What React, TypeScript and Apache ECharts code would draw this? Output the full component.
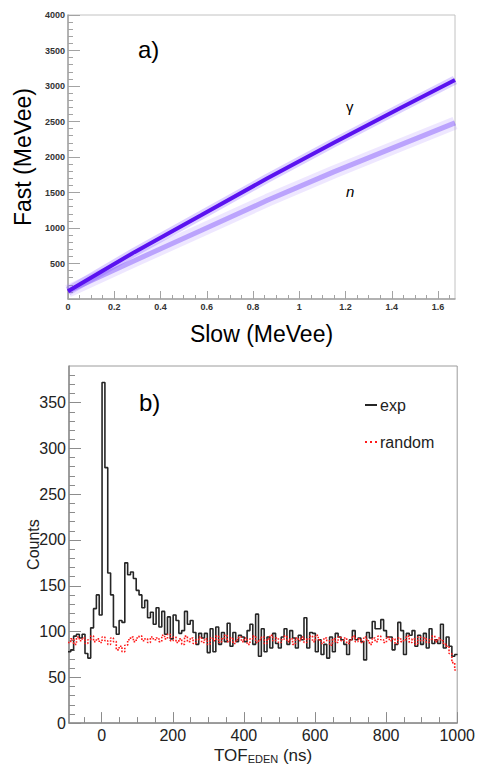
import React, { useEffect, useRef } from 'react';
import * as echarts from 'echarts';

const FONT = '"Liberation Sans", Arial, Helvetica, sans-serif';

// ---- panel a) : band centre lines ----
const gammaSlow = [0, 0.287, 0.575, 0.862, 1.149, 1.437, 1.673];
const gammaFast = [110, 660, 1180, 1700, 2200, 2690, 3085];
const neutronSlow = [0, 0.287, 0.575, 0.862, 1.149, 1.437, 1.673];
const neutronFast = [110, 540, 965, 1390, 1790, 2170, 2480];

const topXMajor = [0, 0.2, 0.4, 0.6, 0.8, 1, 1.2, 1.4, 1.6];
const topXMinor = [0.05, 0.1, 0.15, 0.25, 0.3, 0.35, 0.45, 0.5, 0.55, 0.65, 0.7, 0.75, 0.85, 0.9, 0.95, 1.05, 1.1, 1.15, 1.25, 1.3, 1.35, 1.45, 1.5, 1.55, 1.65];
const topYMajor = [0, 500, 1000, 1500, 2000, 2500, 3000, 3500, 4000];
const topYLabels = [500, 1000, 1500, 2000, 2500, 3000, 3500, 4000];
const topYMinor = [100, 200, 300, 400, 600, 700, 800, 900, 1100, 1200, 1300, 1400, 1600, 1700, 1800, 1900, 2100, 2200, 2300, 2400, 2600, 2700, 2800, 2900, 3100, 3200, 3300, 3400, 3600, 3700, 3800, 3900];

// ---- panel b) : TOF histogram ----
const binStart = -95;
const binWidth = 8;
const expCounts = [
  78, 80, 95, 97, 93, 97, 76, 71, 104, 125,
  140, 118, 372, 279, 164, 140, 105, 97, 112, 110,
  175, 162, 165, 158, 145, 140, 126, 134, 115, 121,
  108, 126, 105, 122, 97, 116, 92, 118,
  112, 98, 101, 122, 108, 112, 99, 86, 98, 93,
  98, 77, 103, 78, 105, 86, 99, 89, 109, 84,
  99, 89, 96, 94, 89, 101, 108, 86, 119, 73,
  103, 78, 94, 82, 98, 87, 82, 94, 103, 86,
  101, 93, 82, 96, 91, 115, 82, 99,
  98, 78, 91, 75, 86, 71, 94, 78, 98, 94,
  91, 86, 75, 91, 101, 91, 93, 89, 69, 99,
  93, 111, 103, 103, 113, 101, 94, 94, 80, 86,
  110, 101, 75, 98, 96, 101, 84, 96, 86, 98,
  82, 103, 87, 91, 87, 108, 82, 94, 84, 73,
  75,
];
const randomCounts = [
  88, 92, 86, 94, 90, 93, 87, 91, 95, 89, 92,
  88, 94, 90, 86, 93, 89, 80, 84, 78, 85,
  91, 94, 89, 93, 95, 90, 92, 88, 94, 91,
  93, 89, 96, 92, 97, 90, 94, 88, 92, 86,
  95, 89, 93, 87, 91, 94, 88, 92, 86, 93,
  90, 95, 88, 92, 96, 89, 93, 87, 91, 94,
  89, 93, 86, 92, 95, 88, 91, 94, 87, 92,
  96, 90, 93, 88, 91, 95, 89, 92, 86, 93,
  90, 94, 88, 92, 95, 89, 96, 91, 87, 93,
  90, 85, 92, 88, 94, 90, 93, 87, 91, 95,
  89, 92, 88, 94, 90, 86, 93, 89, 95, 91,
  88, 94, 90, 92, 87, 93, 89, 91, 95, 88,
  92, 86, 94, 90, 93, 88, 91, 95, 89, 93,
  90, 86, 84, 76, 66, 58,
];

const botXMajor = [0, 200, 400, 600, 800, 1000];
const botXMinor = [-50, 50, 100, 150, 250, 300, 350, 450, 500, 550, 650, 700, 750, 850, 900, 950];
const botYMajor = [0, 50, 100, 150, 200, 250, 300, 350];
const botYMinor = [10, 20, 30, 40, 60, 70, 80, 90, 110, 120, 130, 140, 160, 170, 180, 190, 210, 220, 230, 240, 260, 270, 280, 290, 310, 320, 330, 340, 360, 370, 380];

function histData(counts: number[]) {
  const d: number[][] = counts.map((c, i) => [binStart + i * binWidth, c]);
  d.push([binStart + counts.length * binWidth, counts[counts.length - 1]]);
  return d;
}
function pairs(xs: number[], ys: number[]) {
  return xs.map((x, i) => [x, ys[i]]);
}
const plain = (v: number) => String(v);

function buildOption() {
  const topAxisColor = '#a3a3a3';
  const botAxisColor = '#8c8c8c';
  return {
    animation: false,
    backgroundColor: '#ffffff',
    textStyle: { fontFamily: FONT },
    grid: [
      { left: 68, top: 15, width: 387, height: 284, show: true, borderColor: '#c2c2c2', borderWidth: 1 },
      { left: 69, top: 366, width: 392, height: 362, show: true, borderColor: '#9c9c9c', borderWidth: 1 },
    ],
    legend: {
      data: [
        { name: 'exp', icon: 'rect' },
        { name: 'random', icon: 'path://M0 0h2v2H0z M5 0h2v2H5z M10 0h2v2H10z' },
      ],
      orient: 'vertical',
      left: 360,
      top: 392,
      itemWidth: 12,
      itemHeight: 2,
      itemGap: 21,
      textStyle: { fontSize: 16, color: '#222', fontFamily: FONT, padding: [0, 0, 0, -2] },
    },
    xAxis: [
      {
        gridIndex: 0, type: 'value', min: 0, max: 1.673, position: 'bottom',
        name: 'Slow (MeVee)', nameLocation: 'middle', nameGap: 23,
        nameTextStyle: { fontSize: 23, color: '#000', fontFamily: FONT },
        axisLine: { show: true, onZero: false, lineStyle: { color: topAxisColor, width: 1.5 } },
        axisTick: { inside: true, length: 8, customValues: topXMajor, lineStyle: { color: topAxisColor } },
        axisLabel: { customValues: topXMajor, formatter: plain, fontSize: 9, fontWeight: 'bold', color: '#333', margin: 3 },
        splitLine: { show: false },
      },
      {
        gridIndex: 0, type: 'value', min: 0, max: 1.673, position: 'bottom',
        axisLine: { show: false, onZero: false },
        axisTick: { inside: true, length: 4, customValues: topXMinor, lineStyle: { color: topAxisColor } },
        axisLabel: { show: false },
        splitLine: { show: false },
      },
      {
        gridIndex: 1, type: 'value', min: -92, max: 1000, position: 'bottom',
        name: '{a|TOF}{b|EDEN}{a| (ns)}', nameLocation: 'middle', nameGap: 16,
        nameTextStyle: {
          color: '#222',
          rich: {
            a: { fontSize: 17, lineHeight: 17, verticalAlign: 'top', color: '#222', fontFamily: FONT },
            b: { fontSize: 11, lineHeight: 11, verticalAlign: 'bottom', padding: [9, 0, 0, 0], color: '#222', fontFamily: FONT },
          },
        },
        axisLine: { show: true, onZero: false, lineStyle: { color: botAxisColor, width: 1.5 } },
        axisTick: { inside: true, length: 11, customValues: botXMajor, lineStyle: { color: botAxisColor } },
        axisLabel: { customValues: botXMajor, formatter: plain, fontSize: 16, color: '#222', margin: 4 },
        splitLine: { show: false },
      },
      {
        gridIndex: 1, type: 'value', min: -92, max: 1000, position: 'bottom',
        axisLine: { show: false, onZero: false },
        axisTick: { inside: true, length: 6, customValues: botXMinor, lineStyle: { color: botAxisColor } },
        axisLabel: { show: false },
        splitLine: { show: false },
      },
    ],
    yAxis: [
      {
        gridIndex: 0, type: 'value', min: 0, max: 4000, position: 'left',
        name: 'Fast (MeVee)', nameLocation: 'middle', nameGap: 31, nameRotate: 90,
        nameTextStyle: { fontSize: 23, color: '#000', fontFamily: FONT },
        axisLine: { show: true, onZero: false, lineStyle: { color: topAxisColor, width: 1.5 } },
        axisTick: { inside: true, length: 12, customValues: topYMajor, lineStyle: { color: topAxisColor } },
        axisLabel: { customValues: topYLabels, formatter: plain, fontSize: 9, fontWeight: 'bold', color: '#333', margin: 3 },
        splitLine: { show: false },
      },
      {
        gridIndex: 0, type: 'value', min: 0, max: 4000, position: 'left',
        axisLine: { show: false, onZero: false },
        axisTick: { inside: true, length: 5, customValues: topYMinor, lineStyle: { color: topAxisColor } },
        axisLabel: { show: false },
        splitLine: { show: false },
      },
      {
        gridIndex: 1, type: 'value', min: 0, max: 390, position: 'left',
        name: 'Counts', nameLocation: 'middle', nameGap: 28, nameRotate: 90, nameMoveOverlap: false,
        nameTextStyle: { fontSize: 16, color: '#222', fontFamily: FONT },
        axisLine: { show: true, onZero: false, lineStyle: { color: botAxisColor, width: 1.5 } },
        axisTick: { inside: true, length: 12, customValues: botYMajor, lineStyle: { color: botAxisColor } },
        axisLabel: { customValues: botYMajor, formatter: plain, fontSize: 16, color: '#222', margin: 3 },
        splitLine: { show: false },
      },
      {
        gridIndex: 1, type: 'value', min: 0, max: 390, position: 'left',
        axisLine: { show: false, onZero: false },
        axisTick: { inside: true, length: 6, customValues: botYMinor, lineStyle: { color: botAxisColor } },
        axisLabel: { show: false },
        splitLine: { show: false },
      },
    ],
    series: [
      {
        name: 'n band halo', type: 'line', xAxisIndex: 0, yAxisIndex: 0, silent: true,
        data: pairs(neutronSlow, neutronFast), symbol: 'none',
        lineStyle: { color: 'rgba(170,135,255,0.2)', width: 13 },
      },
      {
        name: 'n band', type: 'line', xAxisIndex: 0, yAxisIndex: 0, silent: true,
        data: pairs(neutronSlow, neutronFast), symbol: 'none',
        lineStyle: { color: 'rgba(125,80,250,0.45)', width: 5 },
      },
      {
        name: 'γ band halo', type: 'line', xAxisIndex: 0, yAxisIndex: 0, silent: true,
        data: pairs(gammaSlow, gammaFast), symbol: 'none',
        lineStyle: { color: 'rgba(120,70,255,0.25)', width: 9 },
      },
      {
        name: 'γ band', type: 'line', xAxisIndex: 0, yAxisIndex: 0, silent: true,
        data: pairs(gammaSlow, gammaFast), symbol: 'none',
        lineStyle: { color: '#5a12f0', width: 4 },
      },
      {
        name: 'exp', type: 'line', xAxisIndex: 2, yAxisIndex: 2, step: 'end',
        data: histData(expCounts), symbol: 'none', showSymbol: false,
        lineStyle: { color: '#262626', width: 1.6 }, itemStyle: { color: '#262626' },
      },
      {
        name: 'random', type: 'line', xAxisIndex: 2, yAxisIndex: 2, step: 'end',
        data: histData(randomCounts), symbol: 'none', showSymbol: false,
        lineStyle: { color: '#ff1a1a', width: 1.6, type: 'dotted' }, itemStyle: { color: '#ff1a1a' },
      },
    ],
    graphic: [
      { type: 'text', left: 138, top: 37, style: { text: 'a)', font: `24px ${FONT}`, fill: '#000' } },
      { type: 'text', left: 346, top: 99, style: { text: 'γ', font: `15px ${FONT}`, fill: '#000' } },
      { type: 'text', left: 346, top: 184, style: { text: 'n', font: `italic 15px ${FONT}`, fill: '#000' } },
      { type: 'text', left: 139, top: 390, style: { text: 'b)', font: `24px ${FONT}`, fill: '#000' } },
    ],
  };
}

export default function App() {
  const ref = useRef<HTMLDivElement>(null);
  useEffect(() => {
    if (!ref.current) return;
    const chart = echarts.init(ref.current, null, { renderer: 'svg' });
    chart.setOption(buildOption() as any);
    return () => chart.dispose();
  }, []);
  return (
    <div
      ref={ref}
      style={{ position: 'absolute', left: 0, top: 0, width: 478, height: 765, background: '#fff' }}
    />
  );
}
